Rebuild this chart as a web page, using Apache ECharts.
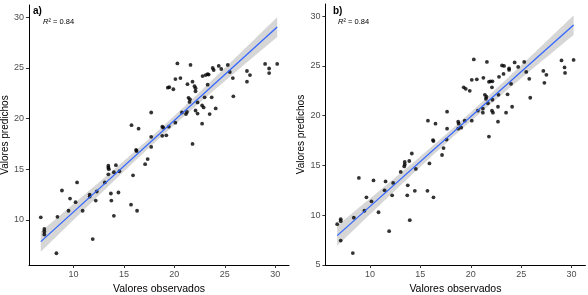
<!DOCTYPE html>
<html lang="es">
<head>
    <meta charset="utf-8" />
    <title>Valores observados vs predichos</title>
    <script src="https://cdn.jsdelivr.net/npm/echarts@6.0.0/dist/echarts.min.js"></script>
    <style>
        html, body { margin: 0; padding: 0; background: #fff; }
        #main { width: 588px; height: 295px; }
    </style>
</head>
<body>
<div id="main"></div>
<script type="text/javascript">
    // tick labels
    let xTicks = [10, 15, 20, 25, 30]
    let yTicksA = [10, 15, 20, 25, 30]
    let yTicksB = [5, 10, 15, 20, 25, 30]
    let panelTags = ['a)', 'b)']
    let r2Text = ['0.84', '0.84']

    // panel a) observed / predicted
    let obsA = [20.3, 21.6, 20.6, 20.1, 19.35, 19.5, 19.9, 21.3, 21.8, 22.0, 22.1, 22.1, 21.4, 21.55, 21.5, 22.3,
        21.25, 21.15, 20.75, 22.1, 22.3, 22.75, 22.9, 22.75, 23.0, 23.5, 23.7, 24.1, 23.3, 22.8, 23.1, 23.3,
        23.4, 23.9, 23.8, 24.4, 24.65, 25.3, 25.5, 25.8, 25.85, 27.2, 27.2, 27.5, 29.0, 29.4, 29.4, 30.2,
        15.75, 16.45, 17.7, 17.7, 18.8, 18.9, 18.8, 19.2, 19.45, 20.1, 16.2, 16.25, 17.7, 21.8, 17.35, 17.1,
        15.9, 14.55, 14.2, 13.45, 13.45, 13.5, 13.45, 14.0, 13.1, 13.7, 14.45, 13.75, 14.0, 15.7, 16.3, 12.2,
        12.3, 11.6, 11.6, 10.9, 10.35, 10.2, 9.65, 8.85, 9.5, 8.4, 6.75, 7.1, 7.1, 7.1, 8.3, 11.9]
    let predA = [25.45, 25.3, 24.0, 23.9, 23.05, 23.1, 22.9, 23.4, 23.65, 23.2, 23.0, 22.7, 22.05, 21.9, 21.65, 21.6,
        20.65, 20.45, 20.6, 20.8, 20.5, 21.3, 21.1, 19.5, 22.1, 20.45, 22.1, 21.0, 23.35, 24.2, 24.3, 24.4,
        24.35, 24.8, 25.0, 25.2, 24.9, 25.3, 24.6, 24.0, 22.2, 24.7, 23.65, 24.3, 25.4, 24.95, 24.5, 25.4,
        19.35, 19.0, 20.6, 18.2, 19.2, 19.1, 18.3, 18.35, 19.2, 19.6, 16.9, 16.8, 17.2, 17.5, 16.0, 15.5,
        14.4, 14.8, 15.4, 15.35, 15.15, 15.0, 14.5, 14.7, 13.7, 12.6, 12.7, 11.9, 10.4, 11.5, 10.9, 11.9,
        12.8, 12.5, 12.3, 10.9, 13.7, 11.75, 12.1, 12.9, 10.9, 10.3, 10.25, 9.1, 8.85, 8.55, 6.7, 8.1]

    // panel b) observed / predicted
    let obsB = [20.3, 21.6, 20.6, 20.1, 19.3, 19.5, 19.9, 21.25, 21.8, 21.95, 22.15, 22.1, 21.4, 21.55, 21.5, 22.15,
        21.7, 21.2, 21.2, 20.7, 22.1, 22.2, 22.7, 22.75, 22.7, 22.8, 23.25, 23.1, 23.3, 23.8, 23.8, 23.65,
        23.5, 24.0, 24.1, 24.35, 24.7, 25.3, 25.5, 25.8, 25.9, 27.2, 27.5, 27.3, 29.0, 29.3, 29.35, 30.2,
        15.75, 16.5, 17.65, 17.65, 18.75, 18.8, 18.75, 19.05, 19.4, 20.1, 21.8, 16.25, 16.3, 17.6, 17.3, 17.15,
        15.9, 14.15, 14.55, 13.9, 13.45, 13.45, 13.4, 13.05, 13.75, 13.7, 14.45, 13.95, 15.7, 16.3, 12.3, 11.55,
        11.45, 12.2, 10.85, 10.35, 10.15, 9.65, 8.9, 9.45, 8.4, 6.75, 7.1, 7.1, 7.1, 8.3, 11.9]
    let predB = [25.65, 25.4, 23.65, 23.6, 22.85, 22.7, 22.5, 23.8, 23.4, 23.45, 23.45, 22.85, 22.1, 21.9, 21.7, 21.6,
        21.25, 20.7, 20.3, 20.5, 20.5, 20.3, 20.9, 22.1, 19.4, 23.9, 24.2, 25.05, 25.0, 24.75, 24.6, 22.15,
        20.3, 23.2, 20.9, 25.35, 24.9, 25.4, 24.4, 23.7, 21.8, 24.5, 24.1, 23.3, 25.55, 24.85, 24.3, 25.6,
        19.5, 19.2, 20.4, 18.7, 19.4, 19.2, 18.7, 18.8, 19.5, 19.5, 17.9, 17.55, 17.45, 17.6, 16.75, 16.05,
        15.2, 16.2, 14.65, 15.45, 15.35, 15.1, 14.9, 14.35, 13.0, 12.0, 12.45, 9.5, 12.45, 11.8, 13.25, 13.4,
        12.5, 12.0, 10.3, 13.5, 11.4, 11.8, 13.75, 10.45, 9.75, 9.1, 9.6, 9.4, 7.45, 6.2, 8.4]

    // fitted line ends
    let fitX = [6.75, 30.2]
    let fitYA = [7.85, 29.05]
    let fitYB = [7.95, 29.1]

    let pointColor = '#000000'
    let lineColor = '#3366FF'
    let bandColor = 'rgba(153,153,153,0.4)'
    let axisTextColor = '#4D4D4D'

    function pairs(xs, ys) {
        return xs.map(function (x, i) { return [x, ys[i]] })
    }

    // 95% confidence band around the fitted line (as geom_smooth(method = 'lm'))
    function smoothBand(xs, ys, fy) {
        let n = xs.length
        let b1 = (fy[1] - fy[0]) / (fitX[1] - fitX[0])
        let b0 = fy[0] - b1 * fitX[0]
        let mx = xs.reduce((a, b) => a + b, 0) / n
        let sxx = 0, sse = 0
        for (let i = 0; i < n; i++) {
            sxx += (xs[i] - mx) * (xs[i] - mx)
            let r = ys[i] - (b0 + b1 * xs[i])
            sse += r * r
        }
        let s = Math.sqrt(sse / (n - 2))
        let t = 1.986
        let band = []
        for (let k = 0; k < 80; k++) {
            let x = fitX[0] + (fitX[1] - fitX[0]) * k / 79
            let y = b0 + b1 * x
            let se = s * Math.sqrt(1 / n + (x - mx) * (x - mx) / sxx)
            band.push([x, y - t * se, y + t * se])
        }
        return band
    }

    function bandRenderer(band) {
        return function (params, api) {
            if (params.dataIndex !== 0) return null
            let pts = []
            band.forEach(function (d) { pts.push(api.coord([d[0], d[2]])) })
            for (let i = band.length - 1; i >= 0; i--) pts.push(api.coord([band[i][0], band[i][1]]))
            return { type: 'polygon', shape: { points: pts }, style: { fill: bandColor } }
        }
    }

    let bandA = smoothBand(obsA, predA, fitYA)
    let bandB = smoothBand(obsB, predB, fitYB)

    function xAxisFor(idx) {
        return {
            type: 'value', gridIndex: idx, min: 5.58, max: 31.37,
            name: 'Valores observados', nameLocation: 'middle', nameGap: 14,
            nameTextStyle: { fontFamily: 'Liberation Sans', fontSize: 10.5, color: '#000' },
            axisLine: { show: true, lineStyle: { color: '#000', width: 1 } },
            axisTick: { show: true, length: 3, customValues: xTicks, lineStyle: { color: '#333' } },
            axisLabel: { customValues: xTicks, margin: 5, fontFamily: 'Liberation Sans', fontSize: 9, color: axisTextColor },
            splitLine: { show: false }
        }
    }

    function yAxisFor(idx, min, ticks) {
        return {
            type: 'value', gridIndex: idx, min: min, max: 31.22,
            name: 'Valores predichos', nameLocation: 'middle', nameGap: 11,
            nameTextStyle: { fontFamily: 'Liberation Sans', fontSize: 10, color: '#000' },
            axisLine: { show: true, lineStyle: { color: '#000', width: 1 } },
            axisTick: { show: true, length: 3, customValues: ticks, lineStyle: { color: '#333' } },
            axisLabel: { customValues: ticks, margin: 5, fontFamily: 'Liberation Sans', fontSize: 9, color: axisTextColor },
            splitLine: { show: false }
        }
    }

    function tagText(left, top, tag) {
        return { type: 'text', left: left, top: top, style: { text: tag, fontFamily: 'Liberation Sans', fontWeight: 'bold', fontSize: 10, fill: '#000' } }
    }

    function r2(left, top, val) {
        return {
            type: 'text', left: left, top: top,
            style: {
                text: '{i|R}{n|\u00b2 = ' + val + '}',
                rich: {
                    i: { fontFamily: 'Liberation Sans', fontStyle: 'italic', fontSize: 7.5, fill: '#000' },
                    n: { fontFamily: 'Liberation Sans', fontSize: 7.5, fill: '#000' }
                }
            }
        }
    }

    let myChart = echarts.init(document.getElementById('main'), null, { renderer: 'canvas' })

    myChart.setOption({
        animation: false,
        backgroundColor: '#fff',
        grid: [
            { left: 29, top: 5, width: 260, height: 260, outerBoundsMode: 'none' },
            { left: 325.4, top: 4, width: 260, height: 261, outerBoundsMode: 'none' }
        ],
        xAxis: [xAxisFor(0), xAxisFor(1)],
        yAxis: [yAxisFor(0, 5.54, yTicksA), yAxisFor(1, 5.0, yTicksB)],
        graphic: [
            tagText(33, 6, panelTags[0]),
            r2(43, 18, r2Text[0]),
            tagText(333, 6, panelTags[1]),
            r2(338, 18, r2Text[1])
        ],
        series: [
            { type: 'scatter', xAxisIndex: 0, yAxisIndex: 0, data: pairs(obsA, predA), symbolSize: 3.8, itemStyle: { color: pointColor } },
            { type: 'custom', xAxisIndex: 0, yAxisIndex: 0, data: bandA, encode: { x: 0, y: [1, 2] }, renderItem: bandRenderer(bandA), silent: true },
            { type: 'line', xAxisIndex: 0, yAxisIndex: 0, data: pairs(fitX, fitYA), showSymbol: false, lineStyle: { color: lineColor, width: 1.3 } },
            { type: 'scatter', xAxisIndex: 1, yAxisIndex: 1, data: pairs(obsB, predB), symbolSize: 3.8, itemStyle: { color: pointColor } },
            { type: 'custom', xAxisIndex: 1, yAxisIndex: 1, data: bandB, encode: { x: 0, y: [1, 2] }, renderItem: bandRenderer(bandB), silent: true },
            { type: 'line', xAxisIndex: 1, yAxisIndex: 1, data: pairs(fitX, fitYB), showSymbol: false, lineStyle: { color: lineColor, width: 1.3 } }
        ]
    })
</script>
</body>
</html>
